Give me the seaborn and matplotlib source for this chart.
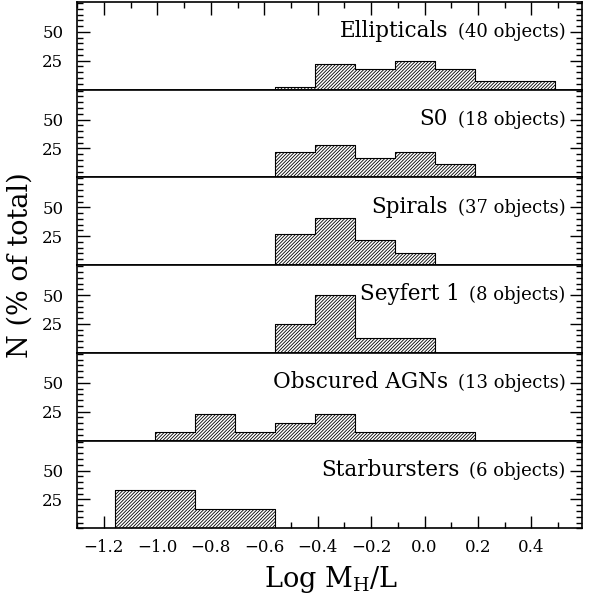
import pandas as pd
import matplotlib
matplotlib.use('Agg')
import matplotlib.pyplot as plt
import seaborn as sns
from matplotlib.ticker import MultipleLocator, FixedLocator
from matplotlib.offsetbox import AnchoredOffsetbox, HPacker, TextArea

# histogram bins (left edges, width 0.15 in Log M_H/L)
bin_left = [-1.16, -1.01, -0.86, -0.71, -0.56, -0.41, -0.26, -0.11, 0.04, 0.19, 0.34]
bin_width = 0.15

classes = ['Ellipticals', 'S0', 'Spirals', 'Seyfert 1', 'Obscured AGNs', 'Starbursters']
n_objects = [40, 18, 37, 8, 13, 6]

# number of objects in each bin
counts_ell = [0, 0, 0, 0, 1, 9, 7, 10, 7, 3, 3]
counts_s0 = [0, 0, 0, 0, 4, 5, 3, 4, 2, 0, 0]
counts_sp = [0, 0, 0, 0, 10, 15, 8, 4, 0, 0, 0]
counts_sy1 = [0, 0, 0, 0, 2, 4, 1, 1, 0, 0, 0]
counts_agn = [0, 1, 3, 1, 2, 3, 1, 1, 1, 0, 0]
counts_sb = [2, 2, 1, 1, 0, 0, 0, 0, 0, 0, 0]
all_counts = [counts_ell, counts_s0, counts_sp, counts_sy1, counts_agn, counts_sb]

edges = bin_left + [round(bin_left[-1] + bin_width, 2)]
centres = [b + bin_width / 2 for b in bin_left]

sns.set_style('ticks')
plt.rcParams['font.family'] = ['DejaVu Serif']
plt.rcParams['mathtext.fontset'] = 'dejavuserif'
plt.rcParams['hatch.linewidth'] = 0.6
plt.rcParams['axes.linewidth'] = 1.2
for k in ['text.color', 'axes.labelcolor', 'xtick.color', 'ytick.color', 'axes.edgecolor']:
    plt.rcParams[k] = 'black'

fig, axes = plt.subplots(6, 1, figsize=(5.94, 6.01), dpi=100, sharex=True)
fig.subplots_adjust(left=0.13, right=0.98, top=0.997, bottom=0.121, hspace=0)

for i, (ax, name, n, cnt) in enumerate(zip(axes, classes, n_objects, all_counts)):
    df = pd.DataFrame({'x': centres, 'pct': [100.0 * c / n for c in cnt]})
    sns.histplot(data=df, x='x', weights='pct', bins=edges, element='step',
                 fill=True, facecolor='white', edgecolor='black',
                 hatch='/' * 10, linewidth=0.8, ax=ax)
    ax.set_xlabel('')
    ax.set_ylabel('')
    ax.set_xlim(-1.3, 0.59)
    ax.set_ylim(0, 76)
    ax.yaxis.set_major_locator(FixedLocator([25, 50]))
    ax.yaxis.set_minor_locator(MultipleLocator(5))
    ax.xaxis.set_major_locator(MultipleLocator(0.2))
    ax.xaxis.set_minor_locator(MultipleLocator(0.1))
    ax.tick_params(axis='y', which='both', direction='in', left=True, right=True,
                   labelsize=12, pad=10)
    ax.tick_params(axis='both', which='major', length=9, width=1)
    ax.tick_params(axis='both', which='minor', length=4.5, width=1)
    ax.tick_params(axis='x', which='both', direction='in', labelsize=12, pad=8,
                   top=(i == 0), bottom=(i == 5), labelbottom=(i == 5))
    for s in ax.spines.values():
        s.set_visible(True)

    # panel label: class name plus smaller object count
    ta1 = TextArea(name, textprops=dict(fontsize=15.5))
    ta2 = TextArea(f'({n} objects)', textprops=dict(fontsize=13))
    box = HPacker(children=[ta1, ta2], align='baseline', pad=0, sep=7)
    ab = AnchoredOffsetbox(loc='upper right', child=box, pad=0, borderpad=0,
                           frameon=False, bbox_to_anchor=(0.967, 0.79),
                           bbox_transform=ax.transAxes)
    ax.add_artist(ab)

fig.text(0.034, 0.559, 'N (% of total)', rotation=90, ha='center', va='center', fontsize=19.5)
fig.text(0.557, 0.036, r'Log $\mathrm{M_H}$/L', ha='center', va='center', fontsize=19.5)

fig.savefig('out.png', dpi=100)
